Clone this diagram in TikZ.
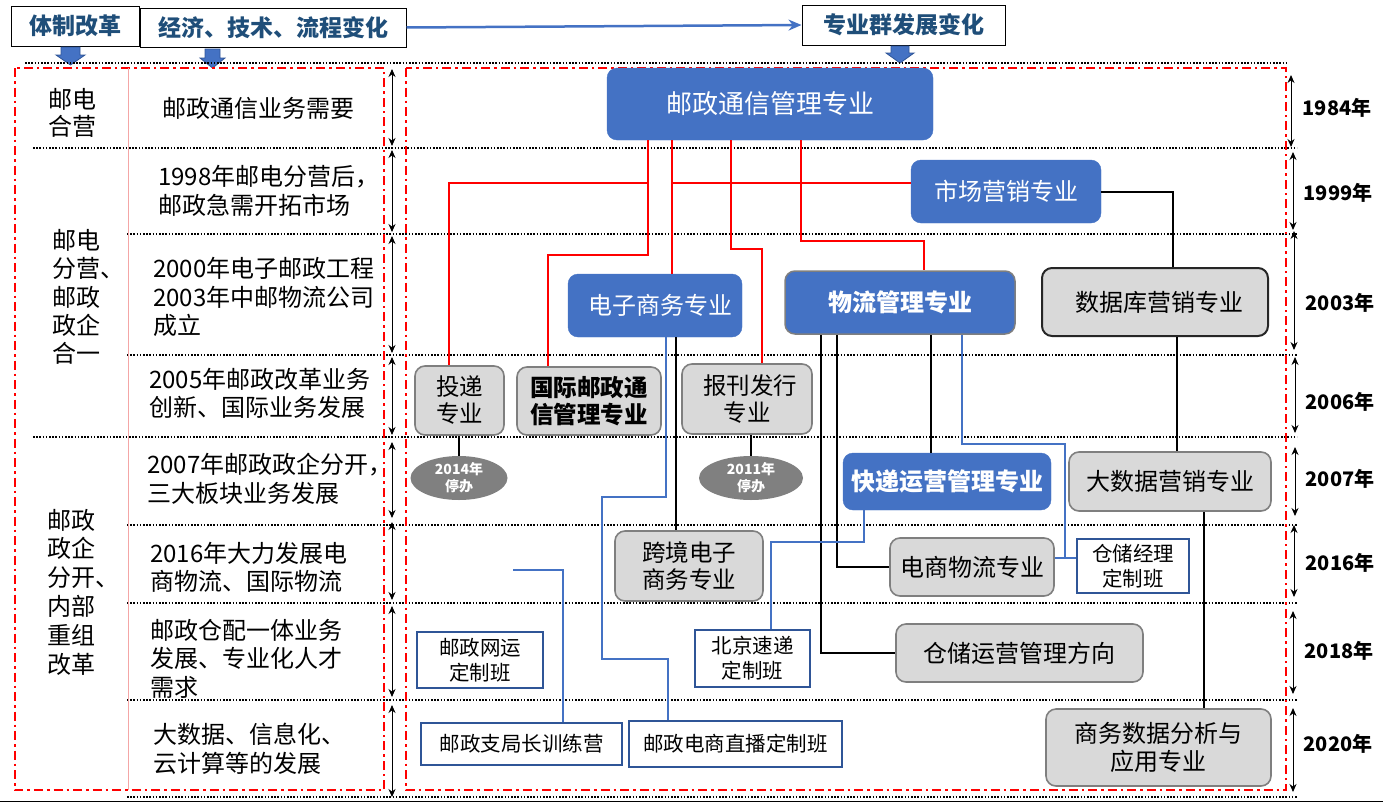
\documentclass[tikz,border=0pt]{standalone}
\usepackage{fontspec}
\setmainfont{Noto Sans CJK SC}
\usetikzlibrary{arrows.meta,calc,shapes.geometric}
\definecolor{bblue}{HTML}{4472C4}
\definecolor{dblue}{HTML}{2F5597}
\definecolor{hdr}{HTML}{1F4E79}
\definecolor{gfill}{HTML}{D9D9D9}
\definecolor{gline}{HTML}{7F7F7F}
\definecolor{pinkl}{HTML}{F4A6A6}
\definecolor{ellg}{HTML}{808080}
\newcommand{\fs}[2]{\fontsize{#1}{#2}\selectfont}
\begin{document}
\begin{tikzpicture}[x=1pt,y=-1pt,
  bluebox/.style={draw=bblue, fill=bblue, rounded corners=10pt, text=white, align=center, inner sep=0pt, font=\fs{24}{28}},
  graybox/.style={draw=gline, fill=gfill, line width=1.6pt, rounded corners=10pt, align=center, inner sep=0pt, font=\fs{23.5}{27}},
  classbox/.style={draw=dblue, fill=white, line width=2pt, align=center, inner sep=0pt, font=\fs{20.5}{25}},
  hdrbox/.style={draw=black, line width=1pt, fill=white, text=hdr, inner sep=0pt, font=\bfseries\fs{23}{26}},
  stopell/.style={ellipse, fill=ellg, text=white, align=center, inner sep=0pt, font=\bfseries\fs{14}{17}},
  rowsep/.style={line width=1.6pt, dash pattern=on 1.6pt off 1.6pt},
  redframe/.style={draw=red, line width=2.2pt, dash pattern=on 9pt off 4pt on 2.5pt off 4pt},
  dbl/.style={{Stealth[length=8pt,width=7pt]}-{Stealth[length=8pt,width=7pt]}, line width=0.9pt},
  redl/.style={draw=red, line width=2pt},
  blkl/.style={draw=black, line width=2pt},
  bluel/.style={draw=bblue, line width=1.1pt},
  lefttext/.style={align=left, anchor=west, inner sep=0pt, font=\fs{24}{28.5}},
  yeartext/.style={inner sep=0pt, font=\bfseries\fs{20}{24}},
  blockarrow/.style={fill=bblue, draw=dblue, line width=0.8pt}
]
\useasboundingbox (0,0) rectangle (1383,803);

% ---- header
\node[hdrbox, minimum width=128, minimum height=40] (h1) at (75,26) {体制改革};
\node[hdrbox, minimum width=266, minimum height=39] (h2) at (273,27.5) {经济、技术、流程变化};
\node[hdrbox, minimum width=203, minimum height=40] (h3) at (903.5,25) {专业群发展变化};
\draw[draw=bblue, line width=2.5pt, -{Stealth[length=13pt,width=11pt]}] (h2.east) -- (h3.west);

% block arrows
\draw[blockarrow] (61,47) -- (80,47) -- (80,55) -- (85,55) -- (70.5,65) -- (56,55) -- (61,55) -- cycle;
\draw[blockarrow] (205,49) -- (220,49) -- (220,58) -- (225,58) -- (212.5,68) -- (200,58) -- (205,58) -- cycle;
\draw[blockarrow] (891,46) -- (909,46) -- (909,53) -- (914,53) -- (900,63) -- (886,53) -- (891,53) -- cycle;

% ---- row separators
\draw[rowsep] (25,63) -- (1286,63);
\draw[rowsep] (33,148) -- (1297,148);
\draw[rowsep] (127,234) -- (1297,234);
\draw[rowsep] (127,355) -- (1297,355);
\draw[rowsep] (33,437) -- (1297,437);
\draw[rowsep] (127,525) -- (1297,525);
\draw[rowsep] (127,603) -- (1297,603);
\draw[rowsep] (127,700) -- (1297,700);
\draw[rowsep] (127,797) -- (1297,797);
\draw[line width=1.3pt] (0,801.8) -- (1383,801.8);

% ---- frames
\draw[redframe] (15,68) rectangle (384,790);
\draw[redframe] (406,68) rectangle (1286,790);
\draw[pinkl, line width=1pt] (128,68) -- (128,790);

% ---- double arrows, left
\foreach \a/\b in {69/146, 150/232, 236/353, 357/435, 442/518, 522/600, 606/697, 705/797}
  \draw[dbl] (392,\a) -- (392,\b);
% right
\draw[dbl] (1291,75) -- (1291,147);
\draw[dbl] (1293,152) -- (1293,230);
\draw[dbl] (1294,231) -- (1294,350);
\draw[dbl] (1295,357) -- (1295,433);
\draw[dbl] (1295,447) -- (1295,516);
\draw[dbl] (1294,525) -- (1294,597);
\draw[dbl] (1293,611) -- (1293,694);
\draw[dbl] (1293,708) -- (1293,792);

% ---- left texts
\node[lefttext, font=\fs{24}{27}] (l1) at (48,113) {邮电\\合营};
\node[lefttext, font=\fs{24}{28.2}] (l2) at (52,297) {邮电\\分营、\\邮政\\政企\\合一};
\node[lefttext, font=\fs{24}{28.8}] (l3) at (47,592) {邮政\\政企\\分开、\\内部\\重组\\改革};

\node[inner sep=0pt, font=\fs{24}{28}] (m1) at (258,108) {邮政通信业务需要};
\node[lefttext] (m2) at (158,191) {1998年邮电分营后，\\邮政急需开拓市场};
\node[lefttext] (m3) at (153,297) {2000年电子邮政工程\\2003年中邮物流公司\\成立};
\node[lefttext] (m4) at (149,393.5) {2005年邮政改革业务\\创新、国际业务发展};
\node[lefttext] (m5) at (147,479) {2007年邮政政企分开，\\三大板块业务发展};
\node[lefttext] (m6) at (150,567.5) {2016年大力发展电\\商物流、国际物流};
\node[lefttext] (m7) at (150,658.5) {邮政仓配一体业务\\发展、专业化人才\\需求};
\node[lefttext] (m8) at (153,749) {大数据、信息化、\\云计算等的发展};

% ---- years
\node[yeartext] (y1) at (1337,108) {1984年};
\node[yeartext] (y2) at (1338,193) {1999年};
\node[yeartext] (y3) at (1340,303) {2003年};
\node[yeartext] (y4) at (1340,402) {2006年};
\node[yeartext] (y5) at (1340,479) {2007年};
\node[yeartext] (y6) at (1340,563) {2016年};
\node[yeartext] (y7) at (1339,651) {2018年};
\node[yeartext] (y8) at (1338,744) {2020年};

% ---- nodes
\node[bluebox, minimum width=326, minimum height=72, font=\fs{26}{30}] (post) at (770,104) {邮政通信管理专业};
\node[bluebox, minimum width=190, minimum height=63] (mkt) at (1006,191.5) {市场营销专业};
\node[graybox, draw=black!85, line width=2pt, minimum width=226, minimum height=68, font=\fs{24}{28}] (db) at (1155,302) {\hspace*{8pt}数据库营销专业};
\node[bluebox, minimum width=174, minimum height=63] (ec) at (655,305.5) {\hspace*{10pt}电子商务专业};
\node[bluebox, draw=gline, line width=1.5pt, minimum width=230, minimum height=63, font=\bfseries\fs{24}{28}] (log) at (900,302.5) {物流管理专业};
\node[graybox, minimum width=89, minimum height=69] (deliv) at (459.5,400.5) {投递\\专业};
\node[graybox, minimum width=144, minimum height=68, font=\bfseries\fs{23.5}{27}] (intl) at (589,401) {国际邮政通\\信管理专业};
\node[graybox, minimum width=130, minimum height=70] (news) at (747,399) {\hspace*{6pt}报刊发行\\专业};
\node[stopell, minimum width=97, minimum height=44] (e2014) at (459,478) {2014年\\停办};
\node[stopell, minimum width=104, minimum height=44] (e2011) at (751,478) {2011年\\停办};
\node[graybox, minimum width=202, minimum height=59, font=\fs{24}{28}] (bigdata) at (1170,481.5) {大数据营销专业};
\node[bluebox, minimum width=208, minimum height=57, font=\bfseries\fs{24}{28}] (express) at (947,481.5) {快递运营管理专业};
\node[graybox, minimum width=148, minimum height=70] (cbec) at (689,566) {跨境电子\\商务专业};
\node[graybox, minimum width=164, minimum height=58, font=\fs{24}{28}] (ecl) at (972,567) {电商物流专业};
\node[classbox, minimum width=112, minimum height=54] (whm) at (1133,566) {仓储经理\\定制班};
\node[graybox, minimum width=247, minimum height=58, font=\fs{24}{28}] (wh) at (1019.5,653) {仓储运营管理方向};
\node[classbox, minimum width=115, minimum height=57] (bj) at (752.5,658.5) {北京速递\\定制班};
\node[classbox, minimum width=126, minimum height=56] (net) at (480,660) {邮政网运\\定制班};
\node[classbox, minimum width=201, minimum height=42] (chief) at (521.5,744) {邮政支局长训练营};
\node[classbox, minimum width=213, minimum height=46] (live) at (735.5,744) {邮政电商直播定制班};
\node[graybox, minimum width=225, minimum height=77, font=\fs{24}{28}] (bda) at (1158.5,747.5) {商务数据分析与\\应用专业};
\coordinate (free) at (513,570);

% ---- connectors (behind boxes)
\begin{scope}[on background layer/.try]
\end{scope}
\begin{pgfinterruptboundingbox}
% red
\draw[redl] (648,0 |- post.south) -- (648,183) -- (449,183) -- (449,0 |- deliv.north);
\draw[redl] (648,183) -- (648,255) -- (548,255) -- (548,0 |- intl.north);
\draw[redl] (672,0 |- post.south) -- (672,0 |- ec.north);
\draw[redl] (672,183) -- (mkt.west |- 0,183);
\draw[redl] (731,0 |- post.south) -- (731,249) -- (762,249) -- (762,0 |- news.north);
\draw[redl] (801,0 |- post.south) -- (801,241) -- (924,241) -- (924,0 |- log.north);
% black
\draw[blkl] (mkt.east) -- (1173,0 |- mkt.east) -- (1173,0 |- db.north);
\draw[blkl] (1177,0 |- db.south) -- (1177,0 |- bigdata.north);
\draw[blkl] (1204,0 |- bigdata.south) -- (1204,0 |- bda.north);
\draw[blkl] (459,0 |- deliv.south) -- (e2014.north);
\draw[blkl] (751,0 |- news.south) -- (e2011.north);
\draw[blkl] (676,0 |- ec.south) -- (676,0 |- cbec.north);
\draw[blkl] (931,0 |- log.south) -- (931,0 |- express.north);
\draw[blkl] (837,0 |- log.south) -- (837,0 |- ecl.west) -- (ecl.west);
\draw[blkl] (821,0 |- log.south) -- (821,0 |- wh.west) -- (wh.west);
% blue thin
\draw[bluel] (962,0 |- log.south) -- (962,444) -- (1065,444) -- (1065,558);
\draw[bluel] (ecl.east |- 0,558) -- (whm.west |- 0,558);
\draw[bluel] (864,0 |- express.south) -- (864,542) -- (771,542) -- (771,0 |- bj.north);
\draw[bluel] (666,0 |- ec.south) -- (666,497) -- (602,497) -- (602,659) -- (668,659) -- (668,0 |- live.north);
\draw[bluel] (free) -- (563,570) -- (563,0 |- chief.north);
\end{pgfinterruptboundingbox}
\end{tikzpicture}
\end{document}
